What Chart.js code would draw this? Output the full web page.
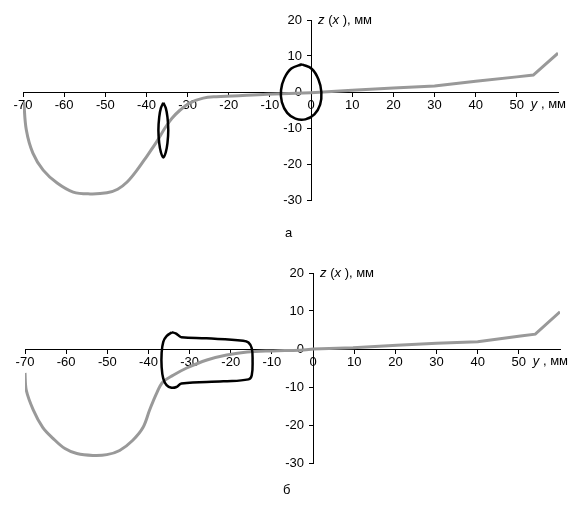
<!DOCTYPE html>
<html>
<head>
<meta charset="utf-8">
<script src="https://cdn.jsdelivr.net/npm/chart.js@4/dist/chart.umd.min.js"></script>
<style>
  html, body { margin: 0; padding: 0; background: #fff; }
  #wrap { position: relative; width: 582px; height: 519px; }
  canvas { position: absolute; left: 0; }
  .cap { position: absolute; font-family: "Liberation Sans", Arial, sans-serif; font-size: 13px; color: #000; }
</style>
</head>
<body>
<div id="wrap">
  <canvas id="c1" width="582" height="250" style="top:0"></canvas>
  <canvas id="c2" width="582" height="269" style="top:250px"></canvas>
  <div class="cap" style="left:285px; top:225px;">а</div>
  <div class="cap" style="left:283px; top:482px;">б</div>
</div>
<script>
// ---- data (y in mm, z in mm) ----
const xTicks = [-70, -60, -50, -40, -30, -20, -10, 0, 10, 20, 30, 40, 50];
const zTicks = [-30, -20, -10, 0, 10, 20];

// panel а: curve z(x), smooth left part and polyline right part
const curveA_y = [-69.8, -69.2, -67.6, -65.1, -61.7, -57.8, -53.7, -49.6, -47, -44.7, -42.3, -40, -37.5, -35.5, -33.8, -31.8, -29.4, -26.2, -23, -19, -10.7, 0];
const curveA_z = [-2.8, -10.5, -17, -21.7, -25.3, -27.8, -28.3, -28, -27, -25, -21.7, -18, -13.8, -10, -7.3, -5, -3, -1.7, -1.3, -1.1, -0.6, -0.2];
const tailA_y = [0, 10, 20, 30, 40, 50, 54, 60];
const tailA_z = [-0.2, 0.5, 1.1, 1.7, 3.0, 4.2, 4.7, 10.8];
// panel а: narrow contour near y = -36
const loopA1_y = [-35.9, -35.3, -34.9, -34.7, -34.9, -35.3, -35.9, -36.5, -36.9, -37.1, -36.9, -36.5, -35.9];
const loopA1_z = [-3.0, -4.5, -7.0, -10.6, -14.2, -16.7, -18.2, -16.7, -14.2, -10.6, -7.0, -4.5, -3.0];
// panel а: contour near origin
const loopA2_y = [-2.2, 0.2, 1.8, 2.5, 2.2, 0.8, -1.4, -3.8, -5.8, -7.1, -7.3, -6.5, -4.8, -2.2];
const loopA2_z = [7.7, 6.4, 3.5, 0.0, -3.5, -6.2, -7.6, -7.4, -5.8, -2.8, 0.5, 3.8, 6.5, 7.7];

// panel б: curve z(x)
const curveB_y = [-70, -69.7, -68, -65.7, -63.2, -60.3, -57.4, -53.5, -50.1, -47, -43.8, -41.3, -39.7, -38, -36.5, -34, -30.7, -25.8, -21, -16, -9.7, -3.2, 0];
const curveB_z = [-6.3, -10.8, -16, -20.6, -23.5, -26.2, -27.5, -28, -27.8, -26.7, -24, -20.6, -16, -11.6, -8.7, -6.9, -5, -2.9, -1.6, -0.8, -0.5, -0.3, 0];
const tailB_y = [0, 9.7, 20.4, 30, 40, 50.4, 54, 60];
const tailB_z = [0, 0.3, 1.0, 1.5, 1.9, 3.4, 3.9, 9.8];
// panel б: bottle-shaped contour
const loopB_y = [-34.3, -33.4, -32.6, -32.0, -25.9, -17.0, -15.7, -14.9, -14.7, -14.9, -15.7, -21.8, -32.0, -33.2, -34.4, -35.6, -36.4, -36.8, -36.8, -36.4, -35.6, -34.3];
const loopB_z = [4.4, 4.1, 3.5, 3.1, 2.8, 2.2, 1.7, 0.2, -2.9, -6.9, -8.0, -8.5, -9.1, -10.0, -10.2, -9.5, -7.8, -4.7, -1.1, 1.9, 3.4, 4.4];

function pts(xs, ys) { return xs.map((v, i) => ({ x: v, y: ys[i] })); }

const FONT = '"Liberation Sans", Arial, sans-serif';

const axisTitles = {
  id: 'axisTitles',
  afterDraw(chart) {
    const ctx = chart.ctx;
    const xs = chart.scales.x, ys = chart.scales.y;
    ctx.save();
    ctx.fillStyle = '#000';
    ctx.textBaseline = 'middle';
    // z(x), мм next to top of vertical axis
    let px = xs.getPixelForValue(0) + 7;
    let py = ys.getPixelForValue(20);
    const parts = [['italic', 'z'], ['normal', ' ('], ['italic', 'x'], ['normal', ' ), мм']];
    for (const [st, t] of parts) {
      ctx.font = st + ' 13px ' + FONT;
      ctx.fillText(t, px, py);
      px += ctx.measureText(t).width;
    }
    // y, мм at the end of horizontal axis
    px = xs.getPixelForValue(53.4);
    py = ys.getPixelForValue(0) + 12;
    const parts2 = [['italic', 'y'], ['normal', ' , мм']];
    for (const [st, t] of parts2) {
      ctx.font = st + ' 13px ' + FONT;
      ctx.fillText(t, px, py);
      px += ctx.measureText(t).width;
    }
    ctx.restore();
  }
};

function makeChart(id, curveX, curveZ, tailX, tailZ, loops, pad) {
  const datasets = [{
    data: pts(curveX, curveZ),
    borderColor: '#999999',
    borderWidth: 3,
    tension: 0.35,
    pointRadius: 0,
    showLine: true,
    order: 3
  }, {
    data: pts(tailX, tailZ),
    borderColor: '#999999',
    borderWidth: 3,
    tension: 0,
    pointRadius: 0,
    showLine: true,
    order: 3
  }];
  loops.forEach(([lx, lz]) => datasets.push({
    data: pts(lx, lz),
    borderColor: '#000000',
    borderWidth: 2.5,
    tension: 0.4,
    pointRadius: 0,
    showLine: true,
    order: 1
  }));
  return new Chart(document.getElementById(id), {
    type: 'scatter',
    data: { datasets },
    options: {
      responsive: false,
      animation: false,
      devicePixelRatio: 1,
      layout: { padding: pad },
      plugins: { legend: { display: false }, tooltip: { enabled: false } },
      scales: {
        x: {
          type: 'linear', min: -70, max: 60,
          position: { y: 0 },
          afterBuildTicks: (s) => { s.ticks = xTicks.map(v => ({ value: v })); },
          ticks: { color: '#000', font: { family: FONT, size: 13 }, padding: 2, maxRotation: 0, autoSkip: false },
          grid: { drawOnChartArea: false, drawTicks: true, tickLength: 4, color: '#000' },
          border: { display: true, color: '#000', width: 1 }
        },
        y: {
          type: 'linear', min: -30, max: 20,
          position: { x: 0 },
          afterBuildTicks: (s) => { s.ticks = zTicks.map(v => ({ value: v })); },
          ticks: { color: '#000', font: { family: FONT, size: 13 }, autoSkip: false,
                   callback: (v) => v + '\u2002\u2009' },
          grid: { drawOnChartArea: false, drawTicks: true, tickLength: 4, color: '#000' },
          border: { display: true, color: '#000', width: 1 }
        }
      }
    },
    plugins: [axisTitles]
  });
}

makeChart('c1', curveA_y, curveA_z, tailA_y, tailA_z, [[loopA1_y, loopA1_z], [loopA2_y, loopA2_z]], { left: 23, right: 24, top: 20, bottom: 50 });
makeChart('c2', curveB_y, curveB_z, tailB_y, tailB_z, [[loopB_y, loopB_z]], { left: 25, right: 22, top: 23, bottom: 56 });
</script>
</body>
</html>
